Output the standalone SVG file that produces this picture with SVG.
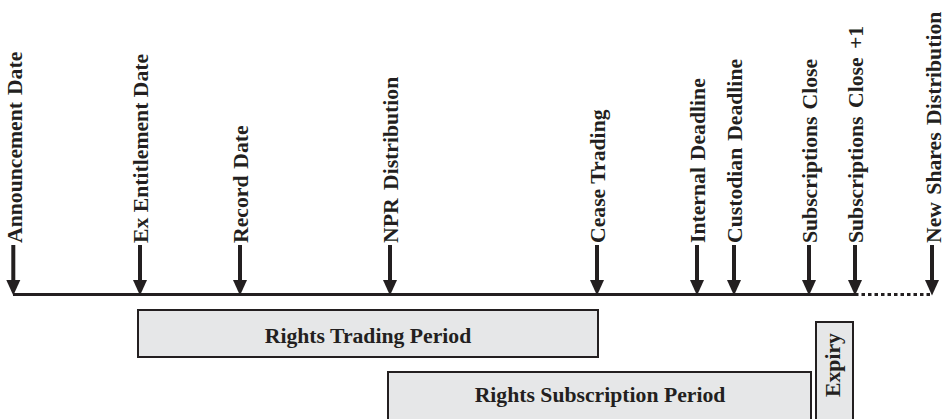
<svg xmlns="http://www.w3.org/2000/svg" width="946" height="419" viewBox="0 0 946 419">
<style>
.lbl{font-family:"Liberation Serif","Times New Roman",serif;font-weight:bold;font-size:21.7px;fill:#231f20}
.ev{word-spacing:1.5px}
.box{fill:#e6e7e8;stroke:#231f20;stroke-width:2}
.shaft{stroke:#231f20;stroke-width:4}
.tl{stroke:#231f20;stroke-width:3;fill:none}
</style>
<defs>
<path id="ah" d="M-7,280 L7,280 L0,295.5 Z" fill="#231f20"/>
</defs>
<g id="labels">
<g id="announcement"><text class="lbl ev" transform="translate(22,243) rotate(-90)">Announcement Date</text></g>
<g id="ex-entitlement"><text class="lbl ev" style="word-spacing:0" transform="translate(148,243) rotate(-90)">Ex Entitlement Date</text></g>
<g id="record"><text class="lbl ev" transform="translate(248,243) rotate(-90)">Record Date</text></g>
<g id="npr"><text class="lbl ev" style="word-spacing:3px" transform="translate(398,243) rotate(-90)">NPR Distribution</text></g>
<g id="cease"><text class="lbl ev" style="word-spacing:0" transform="translate(605,243) rotate(-90)">Cease Trading</text></g>
<g id="internal"><text class="lbl ev" transform="translate(705,243) rotate(-90)">Internal Deadline</text></g>
<g id="custodian"><text class="lbl ev" transform="translate(742,243) rotate(-90)">Custodian Deadline</text></g>
<g id="subs-close"><text class="lbl ev" transform="translate(817,243) rotate(-90)">Subscriptions Close</text></g>
<g id="subs-close-1"><text class="lbl ev" style="word-spacing:3px" transform="translate(863,243) rotate(-90)">Subscriptions Close +1</text></g>
<g id="new-shares"><text class="lbl ev" style="word-spacing:2px" transform="translate(941,243) rotate(-90)">New Shares Distribution</text></g>
</g>
<g id="connectors">
<line class="tl" x1="13" y1="294.5" x2="855" y2="294.5"/>
<line class="tl" x1="855" y1="294.5" x2="932" y2="294.5" stroke-dasharray="3.5 3"/>
<g class="shaft">
<line x1="13.3" y1="245" x2="13.3" y2="282"/>
<line x1="140" y1="245" x2="140" y2="282"/>
<line x1="240" y1="245" x2="240" y2="282"/>
<line x1="390" y1="245" x2="390" y2="282"/>
<line x1="597" y1="245" x2="597" y2="282"/>
<line x1="697" y1="245" x2="697" y2="282"/>
<line x1="734" y1="245" x2="734" y2="282"/>
<line x1="809" y1="245" x2="809" y2="282"/>
<line x1="855" y1="245" x2="855" y2="282"/>
<line x1="932" y1="245" x2="932" y2="282"/>
</g>
<use href="#ah" x="13.3"/>
<use href="#ah" x="140"/>
<use href="#ah" x="240"/>
<use href="#ah" x="390"/>
<use href="#ah" x="597"/>
<use href="#ah" x="697"/>
<use href="#ah" x="734"/>
<use href="#ah" x="809"/>
<use href="#ah" x="855"/>
<use href="#ah" x="932"/>
</g>
<g id="rights-trading">
<rect class="box" x="138" y="310" width="460" height="47"/>
<text class="lbl" x="368" y="343" text-anchor="middle">Rights Trading Period</text>
</g>
<g id="rights-subscription">
<rect class="box" x="388" y="372" width="423" height="50"/>
<text class="lbl" x="600" y="402" text-anchor="middle">Rights Subscription Period</text>
</g>
<g id="expiry">
<rect class="box" x="816" y="322" width="37" height="100"/>
<text class="lbl" transform="translate(840,365) rotate(-90)" text-anchor="middle">Expiry</text>
</g>
</svg>
